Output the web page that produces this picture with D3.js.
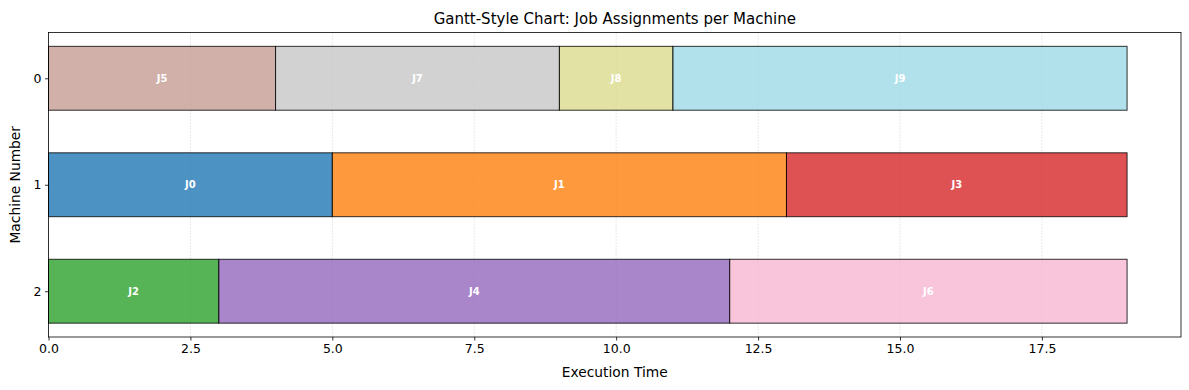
<!DOCTYPE html>
<html>
<head>
<meta charset="utf-8">
<script src="https://cdn.jsdelivr.net/npm/d3@7"></script>
<style>
  body { margin: 0; background: #fff; }
  svg { font-family: "DejaVu Sans", sans-serif; }
</style>
</head>
<body>
<svg id="chart" width="1189" height="390"></svg>
<script>
// jobs per machine, in order
const jobs = ["J5", "J7", "J8", "J9", "J0", "J1", "J3", "J2", "J4", "J6"];
const machines = [0, 0, 0, 0, 1, 1, 1, 2, 2, 2];
const starts = [0, 4, 9, 11, 0, 5, 13, 0, 3, 12];
const durations = [4, 5, 2, 8, 5, 8, 6, 3, 9, 7];
const xTicks = [0, 2.5, 5, 7.5, 10, 12.5, 15, 17.5];
const machineTicks = [0, 1, 2];

// colour by job number (J5..J9 use the pale variants)
const jobColors = ["#1f77b4", "#ff7f0e", "#2ca02c", "#d62728", "#9467bd",
                   "#c49c94", "#f7b6d2", "#c7c7c7", "#dbdb8d", "#9edae5"];

const svg = d3.select("#chart");
const pLeft = 48.5, pRight = 1181, pTop = 32.5, pBottom = 337;

const x = d3.scaleLinear().domain([0, 19.95]).range([pLeft, pRight]);
const y = d3.scaleLinear().domain([-0.43, 2.43]).range([pTop, pBottom]);
const barH = y(0.6) - y(0);

// grid
svg.append("g").selectAll("line")
  .data(xTicks)
  .join("line")
  .attr("x1", d => x(d)).attr("x2", d => x(d))
  .attr("y1", pTop).attr("y2", pBottom)
  .attr("stroke", "#b0b0b0")
  .attr("stroke-opacity", 0.7)
  .attr("stroke-width", 0.8)
  .attr("stroke-dasharray", "1,2");

// bars
const bars = svg.append("g");
jobs.forEach(function(j, i) {
  let idx = +j.slice(1);
  bars.append("rect")
    .attr("x", x(starts[i]))
    .attr("y", y(machines[i]) - barH / 2)
    .attr("width", x(starts[i] + durations[i]) - x(starts[i]))
    .attr("height", barH)
    .attr("fill", jobColors[idx])
    .attr("fill-opacity", 0.8)
    .attr("stroke", "#000")
    .attr("stroke-opacity", 0.8)
    .attr("stroke-width", 1);
  bars.append("text")
    .attr("x", x(starts[i] + durations[i] / 2))
    .attr("y", y(machines[i]))
    .attr("dy", "0.35em")
    .attr("text-anchor", "middle")
    .attr("fill", "#fff")
    .attr("font-weight", "bold")
    .attr("font-size", "10px")
    .text(j);
});

// axes
const xAxis = d3.axisBottom(x).tickValues(xTicks).tickFormat(d3.format(".1f")).tickSize(3.5).tickPadding(3.5);
const gx = svg.append("g").attr("transform", "translate(0," + pBottom + ")").call(xAxis);
gx.select(".domain").remove();
gx.selectAll("text").attr("font-size", "12.5px").attr("fill", "#000").attr("font-family", "DejaVu Sans");
gx.selectAll("line").attr("stroke", "#000").attr("stroke-width", 0.8);

const yAxis = d3.axisLeft(y).tickValues(machineTicks).tickFormat(d3.format("d")).tickSize(3.5).tickPadding(3.5);
const gy = svg.append("g").attr("transform", "translate(" + pLeft + ",0)").call(yAxis);
gy.select(".domain").remove();
gy.selectAll("text").attr("font-size", "12.5px").attr("fill", "#000").attr("font-family", "DejaVu Sans");
gy.selectAll("line").attr("stroke", "#000").attr("stroke-width", 0.8);

// frame
svg.append("rect")
  .attr("x", pLeft).attr("y", pTop)
  .attr("width", pRight - pLeft).attr("height", pBottom - pTop)
  .attr("fill", "none").attr("stroke", "#000").attr("stroke-width", 0.8);

// titles
svg.append("text")
  .attr("x", (pLeft + pRight) / 2).attr("y", 24)
  .attr("text-anchor", "middle").attr("font-size", "15px")
  .text("Gantt-Style Chart: Job Assignments per Machine");
svg.append("text")
  .attr("x", (pLeft + pRight) / 2).attr("y", 377)
  .attr("text-anchor", "middle").attr("font-size", "13.8px")
  .text("Execution Time");
svg.append("text")
  .attr("transform", "translate(20," + (pTop + pBottom) / 2 + ") rotate(-90)")
  .attr("text-anchor", "middle").attr("font-size", "13.8px")
  .text("Machine Number");
</script>
</body>
</html>
